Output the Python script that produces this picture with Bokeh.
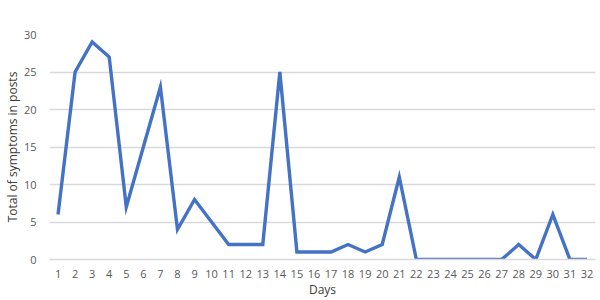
from bokeh.plotting import figure
from bokeh.models import FixedTicker, Range1d, ColumnDataSource
from bokeh.embed import file_html
from bokeh.resources import INLINE

days = list(range(1, 33))
symptoms = [6, 25, 29, 27, 7, 15, 23, 4, 8, 5, 2, 2, 2, 25, 1, 1,
            1, 2, 1, 2, 11, 0, 0, 0, 0, 0, 0, 2, 0, 6, 0, 0]
y_ticks = [0, 5, 10, 15, 20, 25, 30]
x_title = "Days"
y_title = "Total of symptoms in posts"

src = ColumnDataSource(dict(x=days, y=symptoms))

p = figure(width=600, height=300, output_backend="svg", toolbar_location=None,
           x_range=Range1d(0.5, 32.5), y_range=Range1d(0, 30),
           min_border_left=44, min_border_right=5, min_border_top=34, min_border_bottom=30)
p.outline_line_color = None
p.background_fill_color = "white"
p.border_fill_color = "white"

p.line("x", "y", source=src, line_color="#4472C4", line_width=3.4, line_join="miter")

font = "Open Sans"
tc = "#595959"
for ax in (p.xaxis[0], p.yaxis[0]):
    ax.major_tick_line_color = None
    ax.minor_tick_line_color = None
    ax.major_label_text_font = font
    ax.major_label_text_color = tc
    ax.major_label_text_font_size = "11px"
    ax.axis_label_text_font = font
    ax.axis_label_text_color = "#404040"
    ax.axis_label_text_font_style = "normal"
    ax.axis_label_text_font_size = "12px"
    ax.axis_label_standoff = 0

p.xaxis.ticker = FixedTicker(ticks=days)
p.xaxis.axis_line_color = "#d9d9d9"
p.xaxis.axis_line_width = 1.5
p.xaxis.major_label_standoff = 4
p.xaxis.axis_label = x_title

p.yaxis.ticker = FixedTicker(ticks=y_ticks)
p.yaxis.axis_line_color = None
p.yaxis.major_label_standoff = 7
p.yaxis.axis_label = y_title

p.xgrid.grid_line_color = None
p.ygrid.grid_line_color = "#d9d9d9"
p.ygrid.grid_line_width = 1.5

open("out.html", "w").write(file_html(p, INLINE))
